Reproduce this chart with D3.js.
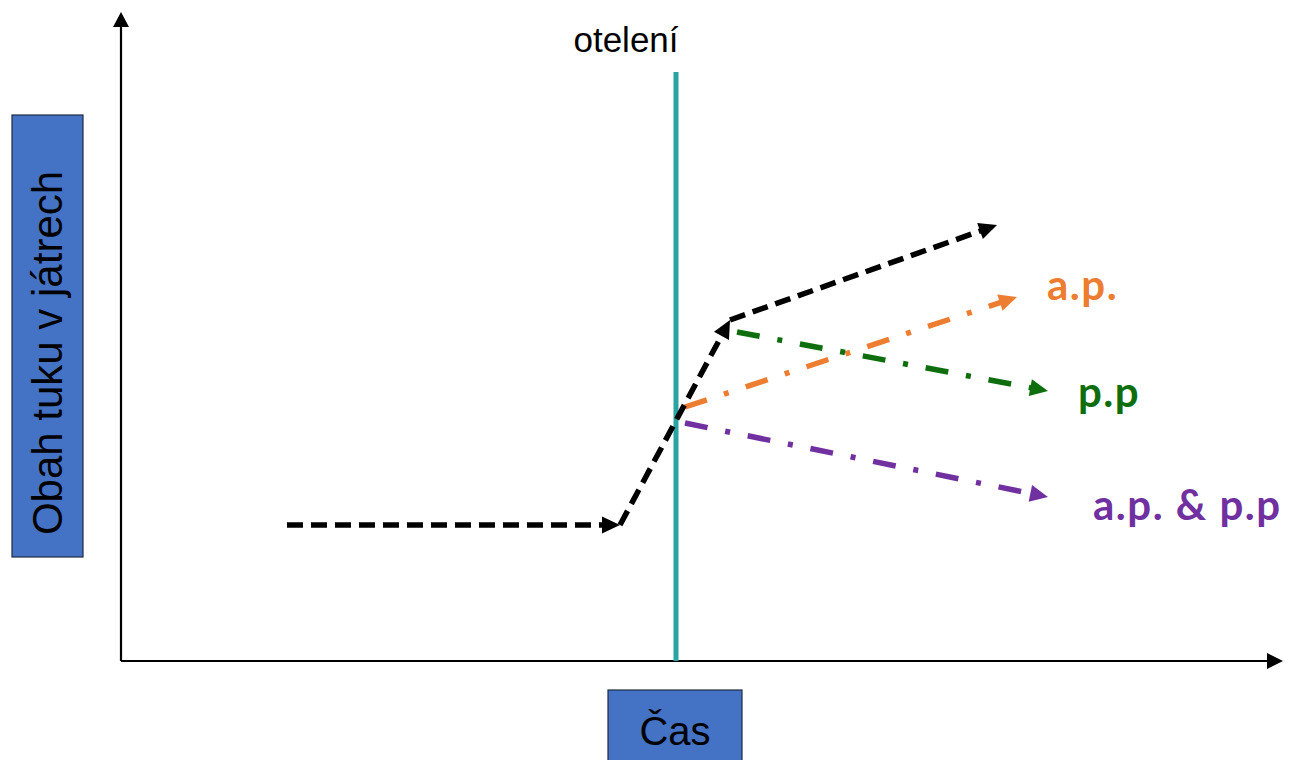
<!DOCTYPE html>
<html>
<head>
<meta charset="utf-8">
<script src="https://cdn.jsdelivr.net/npm/d3@7"></script>
<style>
  html, body { margin: 0; padding: 0; background: #fff; }
  svg { display: block; }
</style>
</head>
<body>
<div id="chart"></div>
<script>
// ---------- DATA (schematic units: time on x, liver fat content on y) ----------
const axisLabelX = "Čas";
const axisLabelY = "Obah tuku v játrech";
const calvingLabel = "otelení";
const calvingTime = 55.5;
const calvingTop = 58.9;

// black baseline trajectory (three dashed arrow segments)
const blackSegments = [
  [[16.6, 13.6], [49.9, 13.6]],
  [[49.9, 13.6], [60.9, 34.1]],
  [[60.9, 34.1], [87.6, 43.6]]
];
// treatment scenarios after calving
const scenarioNames  = ["a.p.", "p.p", "a.p. & p.p"];
const scenarioStart  = [[56.4, 25.4], [61.6, 32.9], [56.4, 23.8]];
const scenarioEnd    = [[89.6, 36.4], [92.7, 27.0], [92.7, 16.4]];
const scenarioLabelAt = [[92.6, 36.1], [95.7, 25.4], [97.2, 14.1]];
const scenarioColors = ["#ED7D31", "#0E6E0E", "#7030A0"];

// ---------- LAYOUT ----------
const W = 1291, H = 760;
const svg = d3.select("#chart").append("svg").attr("width", W).attr("height", H);

const x = d3.scaleLinear().domain([0, 116.2]).range([121, 1283]);
const y = d3.scaleLinear().domain([0, 64.9]).range([661, 12]);

function arrowHead(p0, p1, len, half) {
  const dx = p1[0] - p0[0], dy = p1[1] - p0[1];
  const d = Math.hypot(dx, dy), ux = dx / d, uy = dy / d;
  const bx = p1[0] - ux * len, by = p1[1] - uy * len;
  return `M${p1[0]},${p1[1]}L${bx - uy * half},${by + ux * half}L${bx + uy * half},${by - ux * half}Z`;
}
function shorten(p0, p1, k) {
  const dx = p1[0] - p0[0], dy = p1[1] - p0[1];
  const d = Math.hypot(dx, dy);
  return [p1[0] - dx / d * k, p1[1] - dy / d * k];
}
function drawArrow(a, b, color, dash, width) {
  const p0 = [x(a[0]), y(a[1])], p1 = [x(b[0]), y(b[1])];
  const e = shorten(p0, p1, 14);
  svg.append("path")
    .attr("d", d3.line()([p0, e]))
    .attr("stroke", color).attr("stroke-width", width)
    .attr("stroke-dasharray", dash).attr("fill", "none");
  svg.append("path").attr("d", arrowHead(p0, p1, 18, 8.5)).attr("fill", color);
}

// ---------- AXES ----------
const axisColor = "#000";
svg.append("path").attr("d", d3.line()([[x(0), y(0)], [x(0), y(64.9) + 14]]))
  .attr("stroke", axisColor).attr("stroke-width", 2.2);
svg.append("path").attr("d", arrowHead([x(0), y(0)], [x(0), y(64.9)], 15, 8)).attr("fill", axisColor);
svg.append("path").attr("d", d3.line()([[x(0), y(0)], [x(116.2) - 14, y(0)]]))
  .attr("stroke", axisColor).attr("stroke-width", 2.2);
svg.append("path").attr("d", arrowHead([x(0), y(0)], [x(116.2), y(0)], 16, 8)).attr("fill", axisColor);

// calving line
svg.append("line")
  .attr("x1", x(calvingTime)).attr("x2", x(calvingTime))
  .attr("y1", y(calvingTop)).attr("y2", y(0))
  .attr("stroke", "#2AA3A3").attr("stroke-width", 5);
svg.append("text").text(calvingLabel)
  .attr("x", x(calvingTime) - 50).attr("y", 52)
  .attr("text-anchor", "middle")
  .attr("font-family", "Liberation Sans, Arial, sans-serif")
  .attr("font-size", 35).attr("fill", "#000");

// ---------- TRAJECTORIES ----------
scenarioNames.forEach((n, i) => {
  drawArrow(scenarioStart[i], scenarioEnd[i], scenarioColors[i], "23,18,5,18", 5.5);
});
blackSegments.forEach(s => drawArrow(s[0], s[1], "#000", "16,8", 5.5));

scenarioNames.forEach((n, i) => {
  svg.append("text").text(n)
    .attr("x", x(scenarioLabelAt[i][0])).attr("y", y(scenarioLabelAt[i][1]))
    .attr("font-family", "Lato, 'Open Sans', sans-serif")
    .attr("font-weight", "bold").attr("font-size", 42)
    .attr("letter-spacing", 1.5)
    .attr("fill", scenarioColors[i]);
});

// ---------- AXIS LABEL BOXES ----------
svg.append("rect").attr("x", 12).attr("y", 115).attr("width", 71).attr("height", 442)
  .attr("fill", "#4472C4").attr("stroke", "#1f2a44").attr("stroke-width", 1.2);
svg.append("text").text(axisLabelY)
  .attr("transform", "translate(62,353) rotate(-90)")
  .attr("text-anchor", "middle")
  .attr("font-family", "Liberation Sans, Arial, sans-serif")
  .attr("font-size", 42).attr("fill", "#000");

svg.append("rect").attr("x", 608).attr("y", 690).attr("width", 134).attr("height", 80)
  .attr("fill", "#4472C4").attr("stroke", "#1f2a44").attr("stroke-width", 1.2);
svg.append("text").text(axisLabelX)
  .attr("x", 675).attr("y", 745)
  .attr("text-anchor", "middle")
  .attr("font-family", "Liberation Sans, Arial, sans-serif")
  .attr("font-size", 40).attr("fill", "#000");
</script>
</body>
</html>
